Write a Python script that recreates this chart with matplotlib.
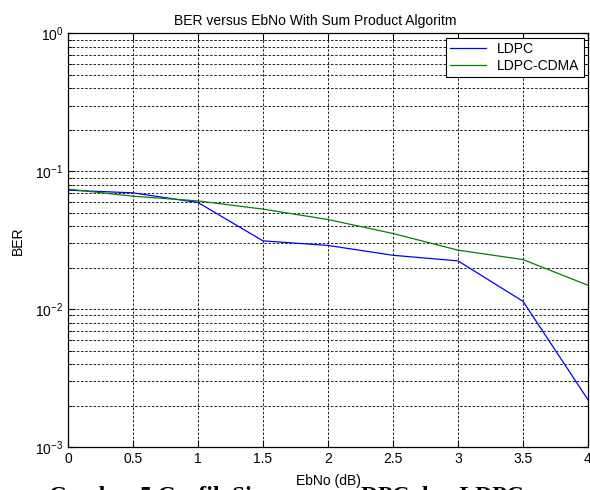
import numpy as np
import matplotlib.pyplot as plt
from matplotlib.ticker import FixedLocator, LogLocator, NullFormatter

# datos
ebno = [0, 0.5, 1, 1.5, 2, 2.5, 3, 3.5, 4]
ber_ldpc = [0.073, 0.0698, 0.0594, 0.0313, 0.0290, 0.0246, 0.0224, 0.0114, 0.0022]
ber_cdma = [0.0743, 0.066, 0.061, 0.0532, 0.0447, 0.0354, 0.0268, 0.0229, 0.0149]
xticks = [0, 0.5, 1, 1.5, 2, 2.5, 3, 3.5, 4]
xtick_labels = ['0', '0.5', '1', '1.5', '2', '2.5', '3', '3.5', '4']
yticks = [1e-3, 1e-2, 1e-1, 1e0]
ytick_labels = [r'$\mathregular{10^{-3}}$', r'$\mathregular{10^{-2}}$',
                r'$\mathregular{10^{-1}}$', r'$\mathregular{10^{0}}$']

plt.rcParams['font.family'] = ['Liberation Sans', 'DejaVu Sans']
plt.rcParams['mathtext.default'] = 'regular'

W, H = 590, 490
fig = plt.figure(figsize=(W / 100, H / 100), dpi=100)
ax = fig.add_axes([68 / W, (H - 447) / H, 520 / W, (447 - 33.5) / H])

ax.semilogy(ebno, ber_ldpc, color='#0000ff', lw=0.9, label='LDPC')
ax.semilogy(ebno, ber_cdma, color='#008000', lw=0.9, label='LDPC-CDMA')

ax.set_xlim(0, 4)
ax.set_ylim(1e-3, 1e0)
ax.xaxis.set_major_locator(FixedLocator(xticks))
ax.set_xticklabels(xtick_labels)
ax.yaxis.set_major_locator(FixedLocator(yticks))
ax.set_yticklabels(ytick_labels)
ax.yaxis.set_minor_locator(LogLocator(base=10, subs=np.arange(2, 10)))
ax.yaxis.set_minor_formatter(NullFormatter())

# cuadricula estilo MATLAB
ax.grid(True, which='major', color='black', linestyle=(0, (3, 2)), lw=0.6)
ax.grid(True, which='minor', axis='y', color='black', linestyle=(0, (3, 2)), lw=0.6)
ax.tick_params(which='both', direction='in', top=True, right=True, labelsize=10)
ax.tick_params(which='major', length=5)
ax.tick_params(which='minor', length=3)
for s in ax.spines.values():
    s.set_linewidth(0.9)

ax.set_title('BER versus EbNo With Sum Product Algoritm', fontsize=10,
             x=(315 - 68) / 520, pad=6)
ax.set_xlabel('EbNo (dB)', fontsize=10, labelpad=6)
ax.set_ylabel('BER', fontsize=10, labelpad=7)

leg = ax.legend(loc='upper right', fontsize=10, fancybox=False, edgecolor='black',
                framealpha=1, borderaxespad=0.3, handlelength=2.6,
                borderpad=0.3, labelspacing=0.2)
leg.get_frame().set_linewidth(0.8)

# pie de figura del documento, cortado abajo
fig.text(49 / W, -0.025, 'Gambar 5 Grafik Si', fontsize=17, fontweight='bold',
         family='Liberation Serif', ha='left', va='baseline')
fig.text(361 / W, -0.025, 'DPC dan LDPC', fontsize=17, fontweight='bold',
         family='Liberation Serif', ha='left', va='baseline')

fig.savefig('out.png', dpi=100)
